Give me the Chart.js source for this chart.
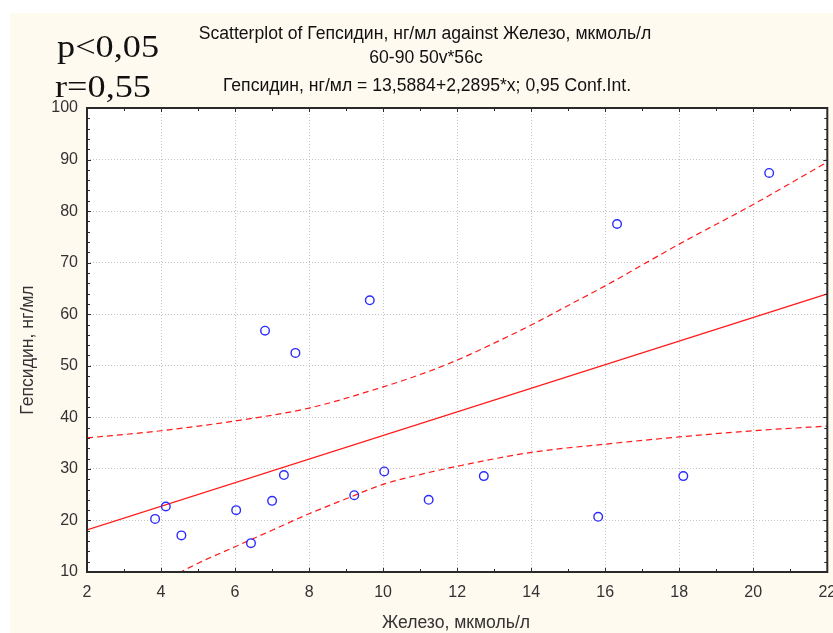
<!DOCTYPE html>
<html>
<head>
<meta charset="utf-8">
<script src="https://cdn.jsdelivr.net/npm/chart.js@4"></script>
<style>
  html, body { margin: 0; padding: 0; background: #fff; }
  #wrap { width: 833px; height: 633px; }
</style>
</head>
<body>
<div id="wrap"><canvas id="chart" width="833" height="633"></canvas></div>
<script>
// ── DATA ──
const ironX    = [3.84, 4.13, 4.55, 6.03, 6.43, 6.81, 7.00, 7.32, 7.63, 9.22, 9.64, 10.03, 11.23, 12.72, 15.81, 16.32, 18.11, 20.43];
const hepcidin = [20.3, 22.7, 17.1, 22.0, 15.6, 56.8, 23.8, 28.8, 52.5, 24.9, 62.7, 29.5, 24.0, 28.6, 20.7, 77.5, 28.6, 87.4];

// regression line ends (13,5884 + 2,2895*x at x = 2 and 22)
const fitX = [2, 22];
const fitY = [18.17, 63.96];

// 0,95 confidence band
const upperX = [2, 4, 6, 8, 10, 11, 12, 13, 14, 15, 16, 18, 20, 22];
const upperY = [36.0, 37.4, 39.3, 41.8, 45.9, 48.3, 51.1, 54.4, 57.9, 61.7, 65.5, 73.6, 81.3, 89.5];
const lowerX = [4, 5, 6, 7, 8, 9, 10, 11, 12, 14, 16, 18, 20, 22];
const lowerY = [8.0, 11.7, 14.9, 18.1, 21.3, 24.2, 27.0, 28.9, 30.5, 33.2, 34.8, 36.2, 37.4, 38.3];

const xTicks = [2, 4, 6, 8, 10, 12, 14, 16, 18, 20, 22];
const yTicks = [10, 20, 30, 40, 50, 60, 70, 80, 90, 100];

const titleLines = [
  'Scatterplot of Гепсидин, нг/мл against Железо, мкмоль/л',
  '60-90 50v*56c',
  'Гепсидин, нг/мл = 13,5884+2,2895*x; 0,95 Conf.Int.'
];
const xTitle = 'Железо, мкмоль/л';
const yTitle = 'Гепсидин, нг/мл';
const statP = 'p<0,05';
const statR = 'r=0,55';

const colors = {
  cream: '#fffaf0',
  point: '#2b2bff',
  fit:   '#ff1a1a',
  grid:  '#c4c4c4',
  axis:  '#2a2a2a',
  text:  '#333333'
};

const sansFont = '"Liberation Sans", Arial, sans-serif';
const toXY = (xs, ys) => xs.map((x, i) => ({ x, y: ys[i] }));

// ── DECOR PLUGIN: background, frame, inner ticks, texts ──
const decor = {
  id: 'decor',
  beforeDraw(chart) {
    const { ctx, chartArea: a, width, height } = chart;
    ctx.save();
    ctx.fillStyle = '#fff';
    ctx.fillRect(0, 0, width, height);
    ctx.fillStyle = colors.cream;
    ctx.fillRect(10, 13, width - 10, height - 13);
    ctx.fillStyle = '#fff';
    ctx.fillRect(a.left, a.top, a.right - a.left, a.bottom - a.top);
    ctx.restore();
  },
  afterDatasetsDraw(chart) {
    const { ctx, chartArea: a, scales: { x, y } } = chart;
    ctx.save();
    ctx.strokeStyle = colors.axis;
    ctx.lineWidth = 1;
    // minor + major ticks pointing inside, on all four sides
    ctx.beginPath();
    for (let v = 2; v <= 22; v += 1) {
      const px = Math.round(x.getPixelForValue(v)) + 0.5;
      const len = v % 2 === 0 ? 4 : 3;
      ctx.moveTo(px, a.bottom); ctx.lineTo(px, a.bottom - len);
      ctx.moveTo(px, a.top);    ctx.lineTo(px, a.top + len);
    }
    for (let v = 10; v <= 100; v += 2) {
      const py = Math.round(y.getPixelForValue(v)) + 0.5;
      const len = v % 10 === 0 ? 4 : 3;
      ctx.moveTo(a.left, py);  ctx.lineTo(a.left + len, py);
      ctx.moveTo(a.right, py); ctx.lineTo(a.right - len, py);
    }
    ctx.stroke();
    ctx.lineWidth = 2;
    ctx.strokeRect(a.left, a.top, a.right - a.left, a.bottom - a.top);

    // titles
    ctx.fillStyle = '#111';
    ctx.textAlign = 'center';
    ctx.textBaseline = 'middle';
    ctx.font = '17.6px ' + sansFont;
    ctx.fillText(titleLines[0], 425, 34);
    ctx.fillText(titleLines[1], 426, 58);
    ctx.fillText(titleLines[2], 427, 86);

    // p / r, slightly stretched like the original
    ctx.textAlign = 'left';
    ctx.textBaseline = 'alphabetic';
    ctx.font = '31px "Liberation Serif", "Times New Roman", serif';
    ctx.save();
    ctx.translate(57, 57);
    ctx.scale(1.17, 1);
    ctx.fillText(statP, 0, 0);
    ctx.restore();
    ctx.save();
    ctx.translate(55, 97);
    ctx.scale(1.17, 1);
    ctx.fillText(statR, 0, 0);
    ctx.restore();

    // axis titles
    ctx.fillStyle = colors.text;
    ctx.font = '17.6px ' + sansFont;
    ctx.textAlign = 'center';
    ctx.textBaseline = 'middle';
    ctx.fillText(xTitle, 456, 623);
    ctx.translate(28, 350);
    ctx.rotate(-Math.PI / 2);
    ctx.fillText(yTitle, 0, 0);
    ctx.restore();
  }
};

const dashed = {
  showLine: true,
  pointRadius: 0,
  borderColor: colors.fit,
  borderWidth: 1.2,
  borderDash: [6, 4],
  cubicInterpolationMode: 'monotone',
  fill: false
};

new Chart(document.getElementById('chart'), {
  type: 'scatter',
  data: {
    datasets: [
      {
        label: 'points',
        data: toXY(ironX, hepcidin),
        pointStyle: 'circle',
        pointRadius: 4.3,
        pointBorderWidth: 1.4,
        borderColor: colors.point,
        backgroundColor: 'rgba(255,255,255,0)',
        order: 0
      },
      {
        label: 'fit',
        data: toXY(fitX, fitY),
        showLine: true,
        pointRadius: 0,
        borderColor: colors.fit,
        borderWidth: 1.3,
        order: 1
      },
      { label: 'upper', data: toXY(upperX, upperY), ...dashed, order: 2 },
      { label: 'lower', data: toXY(lowerX, lowerY), ...dashed, order: 3 }
    ]
  },
  options: {
    responsive: false,
    animation: false,
    events: [],
    layout: { padding: { left: 0, top: 108, right: 4, bottom: 0 } },
    plugins: {
      legend: { display: false },
      tooltip: { enabled: false },
      title: { display: false }
    },
    scales: {
      x: {
        type: 'linear',
        min: 2, max: 22,
        afterBuildTicks: (s) => { s.ticks = xTicks.map(v => ({ value: v })); },
        afterFit: (s) => { s.height = 61; s.paddingRight = 0; s.paddingLeft = 0; },
        grid: { color: colors.grid, lineWidth: 1, drawTicks: false },
        border: { display: false, dash: [1, 2] },
        ticks: {
          padding: 11,
          color: colors.text,
          font: { family: sansFont, size: 16 }
        }
      },
      y: {
        type: 'linear',
        min: 10, max: 100,
        afterBuildTicks: (s) => { s.ticks = yTicks.map(v => ({ value: v })); },
        afterFit: (s) => { s.width = 87; },
        grid: { color: colors.grid, lineWidth: 1, drawTicks: false },
        border: { display: false, dash: [1, 2] },
        ticks: {
          padding: 9,
          color: colors.text,
          font: { family: sansFont, size: 16 }
        }
      }
    }
  },
  plugins: [decor]
});
</script>
</body>
</html>
